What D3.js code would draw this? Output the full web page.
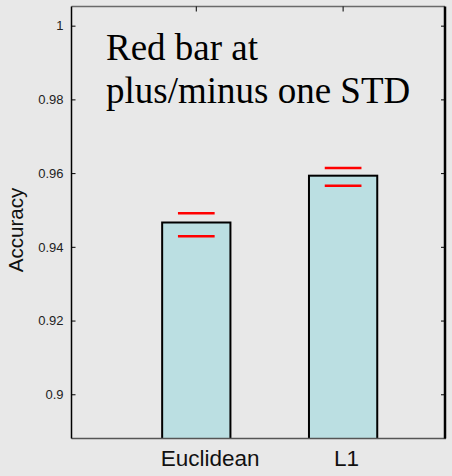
<!DOCTYPE html>
<html>
<head>
<meta charset="utf-8">
<script src="https://cdn.jsdelivr.net/npm/d3@7"></script>
<style>
  html, body { margin: 0; padding: 0; background: #e8e8e8; }
  svg { display: block; }
</style>
</head>
<body>
<svg id="chart" width="452" height="476"></svg>
<script>
// ---- data ----
const categories = ["Euclidean", "L1"];
const accuracy = [0.9466, 0.9593];
const errUpper = [0.9491, 0.9614];
const errLower = [0.9429, 0.9566];
const yTicks = [0.9, 0.92, 0.94, 0.96, 0.98, 1];
const yTickLabels = ["0.9", "0.92", "0.94", "0.96", "0.98", "1"];
const noteLines = ["Red bar at", "plus/minus one STD"];

// ---- layout ----
const W = 452, H = 476;
const m = { left: 71.5, right: 445, top: 6.5, bottom: 438.5 };
const svg = d3.select("#chart");

svg.append("rect").attr("width", W).attr("height", H).attr("fill", "#e8e8e8");

const x = d3.scaleLinear().domain([0.15, 2.694]).range([m.left, m.right]);
const y = d3.scaleLinear().domain([0.888, 1.0052]).range([m.bottom, m.top]);
const barW = 0.465, errW = 0.25;

// clip for plotting area
svg.append("clipPath").attr("id", "plotclip")
  .append("rect").attr("x", m.left).attr("y", m.top)
  .attr("width", m.right - m.left).attr("height", m.bottom - m.top);

const plot = svg.append("g").attr("clip-path", "url(#plotclip)");

// bars
plot.selectAll("rect.bar").data(categories).enter().append("rect")
  .attr("class", "bar")
  .attr("x", (d, i) => x(i + 1 - barW / 2))
  .attr("width", (d, i) => x(i + 1 + barW / 2) - x(i + 1 - barW / 2))
  .attr("y", (d, i) => y(accuracy[i]))
  .attr("height", (d, i) => y(0.888) - y(accuracy[i]) + 1)
  .attr("fill", "#bbdfe2")
  .attr("stroke", "#000")
  .attr("stroke-width", 2);

// error lines (red)
[errUpper, errLower].forEach(arr => {
  plot.selectAll(null).data(categories).enter().append("line")
    .attr("x1", (d, i) => x(i + 1 - errW / 2))
    .attr("x2", (d, i) => x(i + 1 + errW / 2))
    .attr("y1", (d, i) => y(arr[i]))
    .attr("y2", (d, i) => y(arr[i]))
    .attr("stroke", "#ff0000")
    .attr("stroke-width", 2.5);
});

// frame: top (gray), bottom (dark gray), left (black), right (thick black)
svg.append("line").attr("x1", m.left).attr("x2", m.right).attr("y1", m.top).attr("y2", m.top)
  .attr("stroke", "#6a6a6a").attr("stroke-width", 1.5);
svg.append("line").attr("x1", m.left).attr("x2", m.right + 1).attr("y1", m.bottom).attr("y2", m.bottom)
  .attr("stroke", "#555").attr("stroke-width", 1.5);
svg.append("line").attr("x1", m.left).attr("x2", m.left).attr("y1", m.top).attr("y2", m.bottom)
  .attr("stroke", "#000").attr("stroke-width", 1.5);
svg.append("line").attr("x1", m.right).attr("x2", m.right).attr("y1", m.top).attr("y2", m.bottom)
  .attr("stroke", "#000").attr("stroke-width", 2.5);

// left axis
const yAxisL = d3.axisRight(y).tickValues(yTicks).tickSize(4).tickFormat("");
const gL = svg.append("g").attr("transform", `translate(${m.left},0)`).call(yAxisL);
gL.select(".domain").remove();
gL.selectAll("line").attr("stroke", "#000");

// tick labels
svg.selectAll("text.ytl").data(yTicks).enter().append("text")
  .attr("class", "ytl")
  .attr("x", 63.5)
  .attr("y", d => y(d))
  .attr("dy", "0.36em")
  .attr("text-anchor", "end")
  .attr("font-family", "Liberation Sans, Arial, sans-serif")
  .attr("font-size", 13)
  .attr("fill", "#222")
  .text((d, i) => yTickLabels[i]);

// right axis ticks
const yAxisR = d3.axisLeft(y).tickValues(yTicks).tickSize(4).tickFormat("");
const gR = svg.append("g").attr("transform", `translate(${m.right},0)`).call(yAxisR);
gR.select(".domain").remove();
gR.selectAll("line").attr("stroke", "#000");

// top ticks at categories
svg.selectAll("line.ttick").data(categories).enter().append("line")
  .attr("class", "ttick")
  .attr("x1", (d, i) => x(i + 1)).attr("x2", (d, i) => x(i + 1))
  .attr("y1", m.top).attr("y2", m.top + 5)
  .attr("stroke", "#000").attr("stroke-width", 1);

// x labels
svg.selectAll("text.xl").data(categories).enter().append("text")
  .attr("class", "xl")
  .attr("x", (d, i) => x(i + 1))
  .attr("y", 466)
  .attr("text-anchor", "start")
  .attr("font-family", "Liberation Sans, Arial, sans-serif")
  .attr("font-size", 22.5)
  .attr("fill", "#111")
  .text(d => d)
  .each(function () {
    const w = this.getComputedTextLength();
    d3.select(this).attr("dx", -w * 0.36);
  });

// y label
svg.append("text")
  .attr("transform", "translate(23,230) rotate(-90)")
  .attr("text-anchor", "middle")
  .attr("font-family", "Liberation Sans, Arial, sans-serif")
  .attr("font-size", 20.5)
  .attr("fill", "#111")
  .text("Accuracy");

// annotation
const note = svg.append("text")
  .attr("font-family", "Liberation Serif, Times New Roman, serif")
  .attr("font-size", 37)
  .attr("fill", "#000");
noteLines.forEach((t, i) => {
  note.append("tspan").attr("x", 106).attr("y", 60 + i * 43).text(t);
});
</script>
</body>
</html>
